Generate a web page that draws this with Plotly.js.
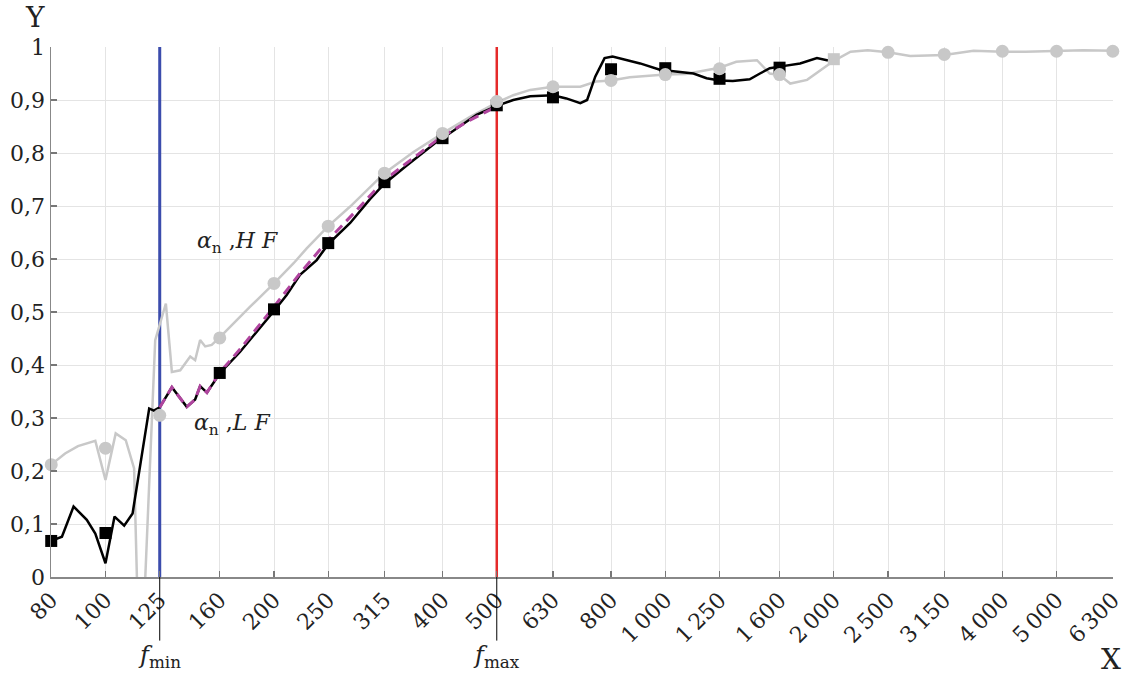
<!DOCTYPE html>
<html>
<head>
<meta charset="utf-8">
<script src="https://cdn.plot.ly/plotly-3.0.1.min.js"></script>
<style>html,body{margin:0;padding:0;background:#fff;}#chart{width:1132px;height:675px;}</style>
</head>
<body>
<div id="chart"></div>
<script>
// x tick bands (1/3 octave)
const tickVals = [80,100,125,160,200,250,315,400,500,630,800,1000,1250,1600,2000,2500,3150,4000,5000,6300];
const tickText = ['80','100','125','160','200','250','315','400','500','630','800','1\u2009000','1\u2009250','1\u2009600','2\u2009000','2\u2009500','3\u2009150','4\u2009000','5\u2009000','6\u2009300'];
const yTickVals = [0,0.1,0.2,0.3,0.4,0.5,0.6,0.7,0.8,0.9,1];
const yTickText = ['0','0,1','0,2','0,3','0,4','0,5','0,6','0,7','0,8','0,9','1'];

// LF fine-resolution curve (black)
const lfF = [80,83.6,87.7,92.6,95.9,100,103.8,108,111.8,119.7,122,125,131.4,139.7,144.6,147.6,151.8,160,174,188.8,200,210.7,222.6,238.4,250,273.6,296.8,315,344.8,390.6,400,460,500,535,573.7,630,665.6,705,725,749.6,779,805,901.6,978,1048,1123,1185,1250,1320,1415,1476,1537,1600,1741,1866,1944,2000];
const lfY = [0.068,0.076,0.133,0.108,0.082,0.026,0.114,0.097,0.12,0.318,0.314,0.32,0.358,0.321,0.335,0.36,0.348,0.384,0.425,0.469,0.502,0.532,0.57,0.598,0.628,0.668,0.713,0.742,0.776,0.821,0.828,0.872,0.889,0.9,0.907,0.909,0.903,0.894,0.9,0.944,0.979,0.982,0.969,0.957,0.953,0.95,0.941,0.937,0.936,0.939,0.95,0.96,0.963,0.969,0.979,0.975,0.975];

// LF band values (black squares)
const lfBandF = [80,100,160,200,250,315,400,500,630,800,1000,1250,1600];
const lfBandY = [0.068,0.083,0.385,0.505,0.63,0.745,0.828,0.89,0.905,0.958,0.96,0.94,0.961];

// HF fine-resolution curve (grey)
const hfF = [80,84.7,89.3,95.9,100,104.3,108.7,112.5,113.8,115.8,117.8,122.7,128.2,131.4,136,141.7,144.6,147.6,150.7,154.8,160,171.7,181.3,200,216.8,228.8,250,273.6,284.8,315,355,400,448,500,535,573.7,630,705,752,800,864,1000,1088,1250,1339,1458,1537,1600,1672,1792,2000,2143,2300,2500,2738,3150,3552,4000,4400,5000,5576,6300];
const hfY = [0.212,0.233,0.247,0.257,0.183,0.271,0.258,0.205,0,-0.1,0,0.447,0.516,0.387,0.39,0.416,0.409,0.447,0.435,0.438,0.452,0.485,0.51,0.554,0.592,0.62,0.662,0.699,0.717,0.762,0.802,0.837,0.868,0.895,0.909,0.919,0.925,0.925,0.935,0.937,0.943,0.948,0.949,0.961,0.972,0.975,0.95,0.947,0.931,0.938,0.974,0.991,0.994,0.99,0.983,0.985,0.993,0.991,0.991,0.992,0.994,0.993];

// HF band values (grey circles)
const hfBandF = [80,100,125,160,200,250,315,400,500,630,800,1000,1250,1600,2500,3150,4000,5000,6300];
const hfBandY = [0.212,0.243,0.305,0.451,0.554,0.662,0.762,0.837,0.897,0.925,0.937,0.948,0.959,0.948,0.99,0.986,0.992,0.992,0.992];

// joint point at 2000 Hz (grey square)
const jointF = [2000];
const jointY = [0.977];

// merged curve fmin..fmax (magenta dashed)
const mergeF = [125,131.4,139.7,144.6,147.6,151.8,160,174,200,222.6,250,281,315,355,395,448,500];
const mergeY = [0.32,0.358,0.321,0.335,0.36,0.348,0.386,0.43,0.51,0.573,0.636,0.692,0.749,0.79,0.828,0.862,0.888];

const fMin = 125, fMax = 500;

const serif = 'DejaVu Serif, serif';
const grey = '#c8c8c8';

const traces = [
  {x: hfF, y: hfY, type: 'scatter', mode: 'lines', line: {color: grey, width: 2.5}, hoverinfo: 'skip'},
  {x: lfF, y: lfY, type: 'scatter', mode: 'lines', line: {color: '#000', width: 2.5}, hoverinfo: 'skip'},
  {x: mergeF, y: mergeY, type: 'scatter', mode: 'lines', line: {color: '#b0459f', width: 3, dash: '10px,6px'}, hoverinfo: 'skip'},
  {x: lfBandF, y: lfBandY, type: 'scatter', mode: 'markers', marker: {symbol: 'square', size: 12, color: '#000'}, cliponaxis: false},
  {x: hfBandF, y: hfBandY, type: 'scatter', mode: 'markers', marker: {symbol: 'circle', size: 13, color: grey}, cliponaxis: false},
  {x: jointF, y: jointY, type: 'scatter', mode: 'markers', marker: {symbol: 'square', size: 12, color: grey}, cliponaxis: false}
];

const layout = {
  width: 1132, height: 675,
  margin: {l: 51, r: 19, t: 47, b: 98},
  paper_bgcolor: '#fff', plot_bgcolor: '#fff',
  showlegend: false,
  font: {family: serif, size: 22, color: '#222'},
  xaxis: {
    type: 'log',
    range: [Math.log10(80) - 0.0004, Math.log10(6300) + 0.0004],
    tickmode: 'array', tickvals: tickVals, ticktext: tickText,
    tickangle: -45,
    ticks: 'inside', ticklen: 6, tickcolor: '#777', tickwidth: 1.3,
    showgrid: true, gridcolor: '#e4e4e4', gridwidth: 1,
    showline: true, linecolor: '#888', linewidth: 1.5,
    zeroline: false,
    tickfont: {family: serif, size: 22, color: '#222'}
  },
  yaxis: {
    range: [0, 1],
    tickmode: 'array', tickvals: yTickVals, ticktext: yTickText,
    ticks: 'inside', ticklen: 6, tickcolor: '#777', tickwidth: 1.3,
    showgrid: true, gridcolor: '#e4e4e4', gridwidth: 1,
    showline: true, linecolor: '#888', linewidth: 1.5,
    zeroline: false,
    tickfont: {family: serif, size: 22, color: '#222'}
  },
  shapes: [
    {type: 'line', xref: 'x', yref: 'y', x0: fMin, x1: fMin, y0: 0, y1: 1, line: {color: '#3b4cac', width: 3}, layer: 'between'},
    {type: 'line', xref: 'x', yref: 'y', x0: fMax, x1: fMax, y0: 0, y1: 1, line: {color: '#e52a2a', width: 2.5}, layer: 'between'},
    {type: 'line', xref: 'x', yref: 'paper', x0: fMin, x1: fMin, y0: 0, y1: -0.12, line: {color: '#000', width: 1}},
    {type: 'line', xref: 'x', yref: 'paper', x0: fMax, x1: fMax, y0: 0, y1: -0.12, line: {color: '#000', width: 1}}
  ],
  annotations: [
    {xref: 'paper', yref: 'paper', x: -0.015, y: 1.055, text: 'Y', showarrow: false, xanchor: 'center', yanchor: 'middle', font: {family: serif, size: 28, color: '#222'}},
    {xref: 'paper', yref: 'paper', x: 0.998, y: -0.155, text: 'X', showarrow: false, xanchor: 'center', yanchor: 'middle', font: {family: serif, size: 28, color: '#222'}},
    {xref: 'x', yref: 'paper', x: Math.log10(fMin), y: -0.15, text: '<i>f</i><sub>min</sub>', showarrow: false, xanchor: 'center', yanchor: 'middle', font: {family: serif, size: 24, color: '#222'}},
    {xref: 'x', yref: 'paper', x: Math.log10(fMax), y: -0.15, text: '<i>f</i><sub>max</sub>', showarrow: false, xanchor: 'center', yanchor: 'middle', font: {family: serif, size: 24, color: '#222'}},
    {xref: 'x', yref: 'y', x: Math.log10(144.6), y: 0.632, text: '<i>α</i><sub>n</sub> ,<i>H F</i>', showarrow: false, xanchor: 'left', yanchor: 'middle', font: {family: serif, size: 22, color: '#222'}},
    {xref: 'x', yref: 'y', x: Math.log10(142.9), y: 0.287, text: '<i>α</i><sub>n</sub> ,<i>L F</i>', showarrow: false, xanchor: 'left', yanchor: 'middle', font: {family: serif, size: 22, color: '#222'}}
  ]
};

Plotly.newPlot('chart', traces, layout, {displayModeBar: false, staticPlot: true});
</script>
</body>
</html>
